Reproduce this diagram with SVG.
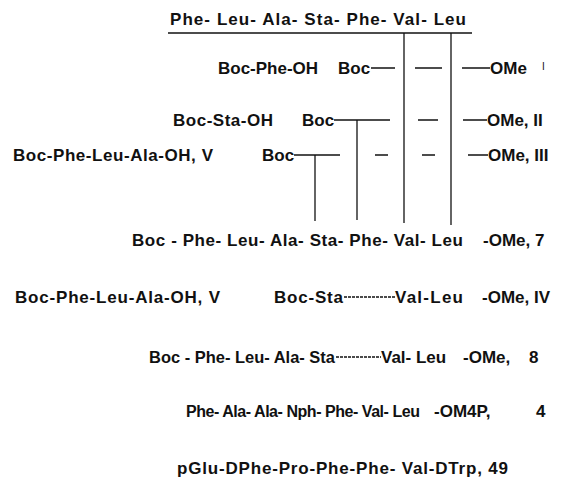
<svg xmlns="http://www.w3.org/2000/svg" width="570" height="502" viewBox="0 0 570 502">
  <style>
    .t { font-family: "Liberation Sans", Arial, Helvetica, sans-serif; font-size: 17px; font-weight: bold; fill: #111; }
    .t16 { font-family: "Liberation Sans", Arial, Helvetica, sans-serif; font-size: 16px; font-weight: bold; fill: #111; }
    .sm { font-family: "Liberation Sans", Arial, sans-serif; font-size: 10px; fill: #111; }
    .ln { stroke: #111; stroke-width: 1.5; fill: none; }
    .vl { stroke: #111; stroke-width: 1.3; fill: none; }
    .dl { stroke: #111; stroke-width: 1.5; stroke-dasharray: 3 1; fill: none; }
  </style>
  <rect width="570" height="502" fill="#fff"/>

  <!-- target sequence heading -->
  <g id="heading">
    <text class="t" x="170" y="25" textLength="296" lengthAdjust="spacing">Phe- Leu- Ala- Sta- Phe- Val- Leu</text>
  </g>

  <!-- step I -->
  <g id="step-I">
    <text class="t" x="218" y="74">Boc-Phe-OH</text>
    <text class="t" x="338" y="74">Boc</text>
    <text class="t" x="490" y="74">OMe</text>
    <text class="sm" x="542" y="70">I</text>
  </g>

  <!-- step II -->
  <g id="step-II">
    <text class="t" x="173" y="126" textLength="100" lengthAdjust="spacing">Boc-Sta-OH</text>
    <text class="t" x="302" y="126">Boc</text>
    <text class="t" x="487" y="126">OMe, II</text>
  </g>

  <!-- step III -->
  <g id="step-III">
    <text class="t" x="13" y="161" textLength="200" lengthAdjust="spacing">Boc-Phe-Leu-Ala-OH, V</text>
    <text class="t" x="262" y="161">Boc</text>
    <text class="t" x="488" y="161">OMe, III</text>
  </g>

  <!-- product 7 -->
  <g id="product-7">
    <text class="t" x="132" y="246" textLength="331" lengthAdjust="spacing">Boc - Phe- Leu- Ala- Sta- Phe- Val- Leu</text>
    <text class="t" x="483" y="246">-OMe, 7</text>
  </g>

  <!-- route via IV -->
  <g id="step-IV">
    <text class="t" x="15" y="303" textLength="205" lengthAdjust="spacing">Boc-Phe-Leu-Ala-OH,  V</text>
    <text class="t" x="274" y="303" textLength="69" lengthAdjust="spacing">Boc-Sta</text>
    <text class="t" x="395" y="303" textLength="68" lengthAdjust="spacing">Val-Leu</text>
    <text class="t" x="482" y="303">-OMe, IV</text>
  </g>

  <!-- product 8 -->
  <g id="product-8">
    <text class="t" x="149" y="363" textLength="186" lengthAdjust="spacingAndGlyphs">Boc - Phe- Leu- Ala- Sta</text>
    <text class="t" x="381" y="363">Val- Leu</text>
    <text class="t" x="463" y="363">-OMe,</text>
    <text class="t" x="529" y="363">8</text>
  </g>

  <!-- compound 4 -->
  <g id="compound-4">
    <text class="t16" x="186" y="417" textLength="234" lengthAdjust="spacing">Phe- Ala- Ala- Nph- Phe- Val- Leu</text>
    <text class="t" x="434" y="417">-OM4P,</text>
    <text class="t" x="536" y="417">4</text>
  </g>

  <!-- compound 49 -->
  <g id="compound-49">
    <text class="t" x="177" y="474" textLength="331" lengthAdjust="spacing">pGlu-DPhe-Pro-Phe-Phe- Val-DTrp, 49</text>
  </g>

  <!-- bonds and coupling lines -->
  <g id="connectors">
    <line class="ln" x1="168" y1="33" x2="472" y2="33"/>
    <line class="vl" x1="404" y1="33" x2="404" y2="223"/>
    <line class="vl" x1="451" y1="33" x2="451" y2="225"/>
    <line class="vl" x1="357" y1="120" x2="357" y2="220"/>
    <line class="vl" x1="315" y1="155" x2="315" y2="221"/>

    <line class="ln" x1="371" y1="68" x2="395" y2="68"/>
    <line class="ln" x1="415" y1="68" x2="442" y2="68"/>
    <line class="ln" x1="462" y1="68" x2="490" y2="68"/>

    <line class="ln" x1="334" y1="120" x2="390" y2="120"/>
    <line class="ln" x1="418" y1="120" x2="438" y2="120"/>
    <line class="ln" x1="463" y1="120" x2="487" y2="120"/>

    <line class="ln" x1="294" y1="155" x2="340" y2="155"/>
    <line class="ln" x1="375" y1="155" x2="388" y2="155"/>
    <line class="ln" x1="422" y1="155" x2="435" y2="155"/>
    <line class="ln" x1="468" y1="155" x2="488" y2="155"/>

    <line class="dl" x1="344" y1="297" x2="395" y2="297"/>
    <line class="dl" x1="336" y1="357" x2="381" y2="357"/>
  </g>
</svg>
